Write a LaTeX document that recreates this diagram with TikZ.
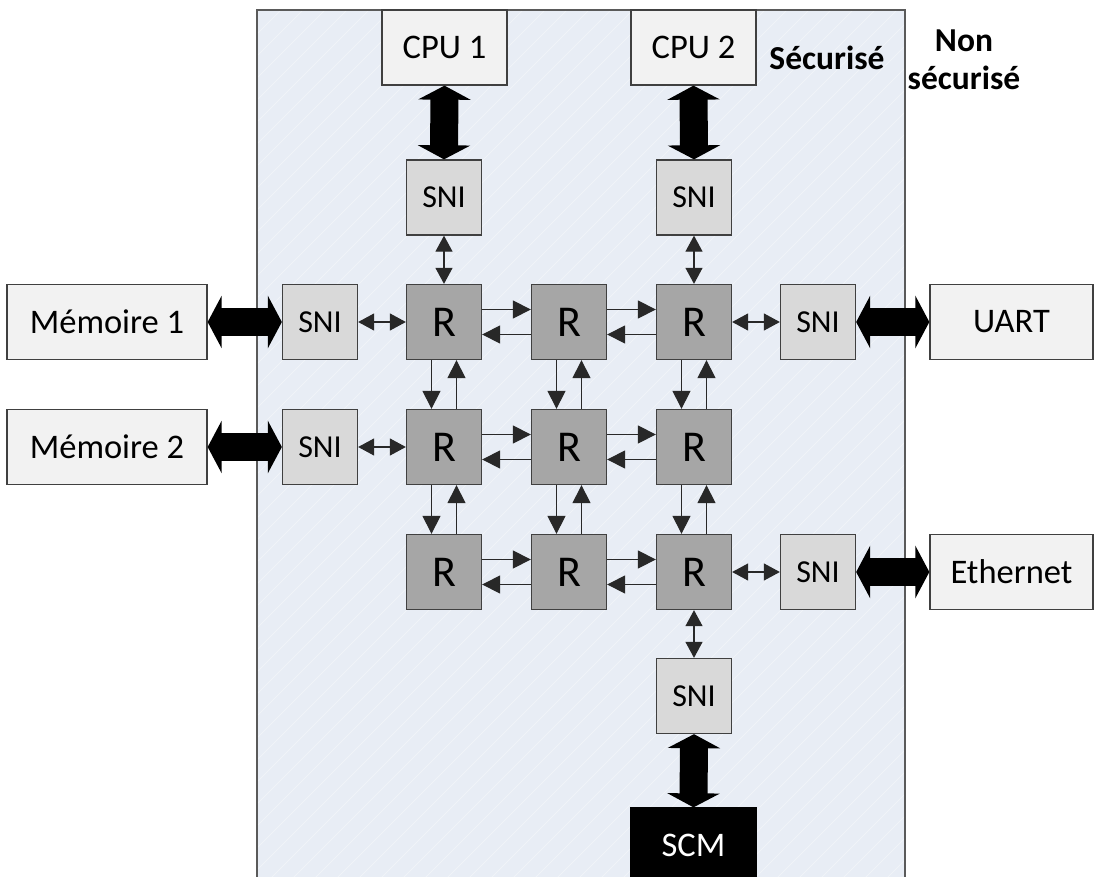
\documentclass[tikz,border=0pt]{standalone}
\usepackage{fontspec}
\setmainfont{Carlito}
\usetikzlibrary{arrows.meta}
\definecolor{secbg}{RGB}{232,237,245}
\definecolor{secline}{RGB}{90,90,90}
\definecolor{extfill}{RGB}{242,242,242}
\definecolor{snifill}{RGB}{217,217,217}
\definecolor{rfill}{RGB}{166,166,166}
\definecolor{boxline}{RGB}{64,64,64}
\definecolor{linkline}{RGB}{40,40,40}
\tikzset{
  base/.style={draw=boxline, line width=1.3pt, inner sep=0pt, font=\fontsize{34.5}{38}\selectfont},
  extbox/.style={base, fill=extfill, minimum height=75pt},
  snibox/.style={base, fill=snifill, minimum width=75pt, minimum height=75pt, font=\fontsize{32}{36}\selectfont},
  rbox/.style={base, fill=rfill, minimum width=75pt, minimum height=75pt, font=\fontsize{44}{48}\selectfont},
  scmbox/.style={base, draw=black, fill=black, text=white, minimum width=125pt, minimum height=75pt},
  lbl/.style={inner sep=0pt, font=\fontsize{33.5}{38}\selectfont\bfseries},
  bigarrow/.style={line width=28pt, {Triangle[length=14pt,width=52pt]}-{Triangle[length=14pt,width=52pt]}},
  smallboth/.style={draw=linkline, line width=1.2pt, {Triangle[length=16pt,width=17pt]}-{Triangle[length=16pt,width=17pt]}},
  link/.style={draw=linkline, line width=1.2pt, -{Triangle[length=18pt,width=18pt]}},
}
\begin{document}
\begin{tikzpicture}[x=1pt,y=-1pt]
\clip (0,0) rectangle (1094,877);
\useasboundingbox (0,0) rectangle (1094,877);
% secure region
\fill[secbg] (257,10) rectangle (905,890);
\begin{scope}
\clip (257,10) rectangle (905,890);
\foreach \k in {0,22,...,1600}{
  \draw[white, opacity=0.35, line width=0.8pt] (257+\k-900,890) -- (257+\k,-10);
}
\end{scope}
\draw[secline, line width=1.3pt] (257,890) -- (257,10) -- (905,10) -- (905,890);

% labels
\node[lbl] (sec) at (827,58) {Sécurisé};
\node[lbl, align=center] (nonsec) at (964,60) {Non\\sécurisé};

% external boxes
\node[extbox, minimum width=125pt] (cpu1) at (444.5,47.5) {CPU 1};
\node[extbox, minimum width=125pt] (cpu2) at (693.5,47.5) {CPU 2};
\node[extbox, minimum width=200pt] (mem1) at (107,322) {Mémoire 1};
\node[extbox, minimum width=200pt] (mem2) at (107,447) {Mémoire 2};
\node[extbox, minimum width=163pt] (uart) at (1011.5,322) {UART};
\node[extbox, minimum width=163pt] (eth) at (1011.5,572) {Ethernet};
\node[scmbox] (scm) at (693.5,845.5) {SCM};

% SNIs
\node[snibox] (snic1) at (444,197.5) {SNI};
\node[snibox] (snic2) at (694,197.5) {SNI};
\node[snibox] (snim1) at (320,322) {SNI};
\node[snibox] (snim2) at (320,447) {SNI};
\node[snibox] (sniu) at (818,322) {SNI};
\node[snibox] (snie) at (818,572) {SNI};
\node[snibox] (snis) at (694,696) {SNI};

% routers
\foreach \i in {1,2,3}{
  \foreach \j in {1,2,3}{
    \node[rbox] (r\i\j) at ({444+125*(\j-1)},{322+125*(\i-1)}) {R};
  }
}

% thick arrows
\draw[bigarrow] (cpu1.south) -- (snic1.north);
\draw[bigarrow] (cpu2.south) -- (snic2.north);
\draw[bigarrow] (mem1.east) -- (snim1.west);
\draw[bigarrow] (mem2.east) -- (snim2.west);
\draw[bigarrow] (sniu.east) -- (uart.west);
\draw[bigarrow] (snie.east) -- (eth.west);
\draw[bigarrow] (snis.south) -- (scm.north);

% small double arrows
\draw[smallboth] (snic1.south) -- (r11.north);
\draw[smallboth] (snic2.south) -- (r13.north);
\draw[smallboth] (snim1.east) -- (r11.west);
\draw[smallboth] (snim2.east) -- (r21.west);
\draw[smallboth] (r13.east) -- (sniu.west);
\draw[smallboth] (r33.east) -- (snie.west);
\draw[smallboth] (r33.south) -- (snis.north);

% router links horizontal
\foreach \i in {1,2,3}{
  \foreach \j/\k in {1/2,2/3}{
    \draw[link] ([yshift=12.5pt]r\i\j.east) -- ([yshift=12.5pt]r\i\k.west);
    \draw[link] ([yshift=-12.5pt]r\i\k.west) -- ([yshift=-12.5pt]r\i\j.east);
  }
}
% router links vertical
\foreach \j in {1,2,3}{
  \foreach \i/\k in {1/2,2/3}{
    \draw[link] ([xshift=-12.5pt]r\i\j.south) -- ([xshift=-12.5pt]r\k\j.north);
    \draw[link] ([xshift=12.5pt]r\k\j.north) -- ([xshift=12.5pt]r\i\j.south);
  }
}
\end{tikzpicture}
\end{document}
